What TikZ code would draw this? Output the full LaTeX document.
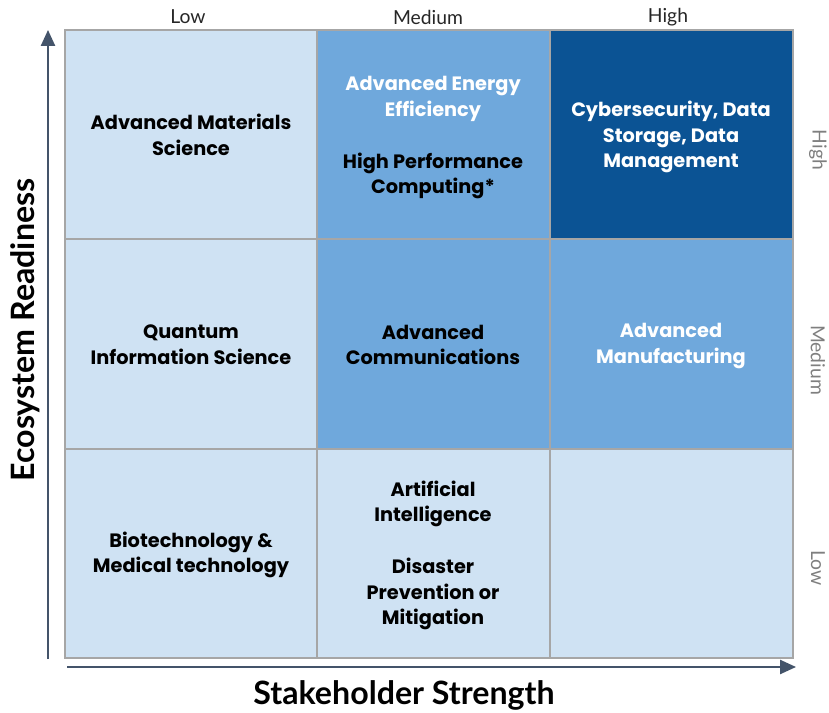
\documentclass[tikz,border=0pt]{standalone}
\usepackage{fontspec}
\setmainfont{Poppins}
\newfontfamily\axisfont{Lato}
\usetikzlibrary{arrows.meta}

\definecolor{cellLight}{HTML}{CFE2F3}
\definecolor{cellMid}{HTML}{6FA8DC}
\definecolor{cellDark}{HTML}{0B5394}
\definecolor{gridGray}{HTML}{A6A6A6}
\definecolor{axisSlate}{HTML}{44546A}
\definecolor{tickGray}{HTML}{7F7F7F}

\tikzset{
  celltext/.style={align=center, font=\fontsize{11}{14.7}\selectfont\bfseries},
  gridline/.style={draw=gridGray, line width=1.2pt},
  axisarrow/.style={draw=axisSlate, line width=1pt, -{Triangle[width=8pt,length=9pt]}},
  axistitle/.style={font=\axisfont\fontsize{18.3}{20}\selectfont\bfseries},
  ticklabel/.style={font=\axisfont\fontsize{11}{13}\selectfont, text=black!85},
  sidelabel/.style={font=\axisfont\fontsize{11}{13}\selectfont, text=tickGray, rotate=-90}
}

\begin{document}
\begin{tikzpicture}[x=0.02cm, y=-0.02cm]
  \useasboundingbox (0,0) rectangle (829,713);

  % Cell fills
  \fill[cellLight] (65,30) rectangle (317,658);
  \fill[cellMid] (317,30) rectangle (550,449);
  \fill[cellLight] (317,449) rectangle (793,658);
  \fill[cellMid] (550,239) rectangle (793,449);
  \fill[cellDark] (550,30) rectangle (793,239);

  % Grid lines
  \draw[gridline] (65,30) rectangle (793,658);
  \draw[gridline] (317,30) -- (317,658);
  \draw[gridline] (550,30) -- (550,658);
  \draw[gridline] (65,239) -- (793,239);
  \draw[gridline] (65,449) -- (793,449);

  % Axes
  \coordinate (yStart) at (48,659);
  \coordinate (yEnd) at (48,30);
  \coordinate (xStart) at (67,667);
  \coordinate (xEnd) at (796,667);
  \draw[axisarrow] (yStart) -- (yEnd);
  \draw[axisarrow] (xStart) -- (xEnd);

  \node[axistitle, rotate=90] (yTitle) at (25,330) {Ecosystem Readiness};
  \node[axistitle] (xTitle) at (404,695) {Stakeholder Strength};

  % Column and row labels
  \node[ticklabel] (colLow) at (188,17) {Low};
  \node[ticklabel] (colMid) at (428,17) {Medium};
  \node[ticklabel] (colHigh) at (668,17) {High};
  \node[sidelabel] (rowHigh) at (818,150) {High};
  \node[sidelabel] (rowMid) at (818,360) {Medium};
  \node[sidelabel] (rowLow) at (818,568) {Low};

  % Top row
  \node[celltext] (materials) at (191,135) {Advanced Materials\\Science};
  \node[celltext] (energy) at (433,99) {\textcolor{white}{Advanced Energy}\\\textcolor{white}{Efficiency}};
  \node[celltext] (hpc) at (433,176) {High Performance\\Computing*};
  \node[celltext, text=white] (cyber) at (671,137) {Cybersecurity, Data\\Storage, Data\\Management};

  % Middle row
  \node[celltext] (quantum) at (191,345) {Quantum\\Information Science};
  \node[celltext] (comms) at (433,345) {Advanced\\Communications};
  \node[celltext, text=white] (manuf) at (671,346) {Advanced\\Manufacturing};

  % Bottom row
  \node[celltext] (biotech) at (191,555) {Biotechnology \&\\Medical technology};
  \node[celltext] (ai) at (433,504) {Artificial\\Intelligence};
  \node[celltext] (disaster) at (433,594) {Disaster\\Prevention or\\Mitigation};
\end{tikzpicture}
\end{document}
